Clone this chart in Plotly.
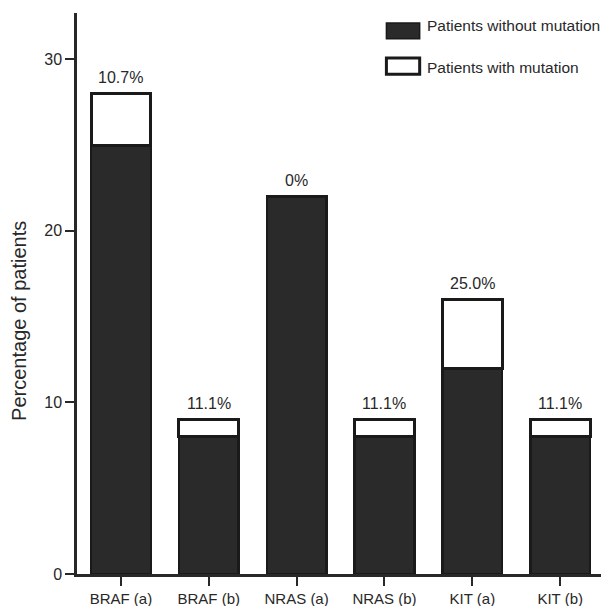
import plotly.graph_objects as go

categories = ["BRAF (a)", "BRAF (b)", "NRAS (a)", "NRAS (b)", "KIT (a)", "KIT (b)"]
without_mutation = [25, 8, 22, 8, 12, 8]
with_mutation = [3, 1, 0, 1, 4, 1]
pct_labels = ["10.7%", "11.1%", "0%", "11.1%", "25.0%", "11.1%"]
y_ticks = [0, 10, 20, 30]
series_names = ["Patients without mutation", "Patients with mutation"]

dark = "#2a2a2a"
edge = "#1a1a1a"
txt = "#282828"
font = "Liberation Sans, Arial, sans-serif"

fig = go.Figure()
fig.add_trace(go.Bar(
    x=categories, y=without_mutation, name=series_names[0],
    marker=dict(color=dark, line=dict(color=edge, width=2.5)), width=0.68,
    showlegend=False,
))
fig.add_trace(go.Bar(
    x=categories, y=with_mutation, name=series_names[1],
    marker=dict(color="white", line=dict(color=edge, width=3)), width=0.68,
    showlegend=False,
))

totals = [a + b for a, b in zip(without_mutation, with_mutation)]
for c, t, lab in zip(categories, totals, pct_labels):
    fig.add_annotation(x=c, y=t, text=lab, showarrow=False, yanchor="bottom",
                       yshift=6, font=dict(family=font, size=16, color=txt))

# custom legend (wide swatches, as in the original)
legend_rows = [
    dict(fill=dark, lw=1.5, y0=0.954, y1=0.982, ty=0.9786),
    dict(fill="white", lw=3, y0=0.891, y1=0.920, ty=0.9037),
]
for name, row in zip(series_names, legend_rows):
    fig.add_shape(type="rect", xref="paper", yref="paper",
                  x0=0.586, x1=0.649, y0=row["y0"], y1=row["y1"],
                  fillcolor=row["fill"], line=dict(color=edge, width=row["lw"]))
    fig.add_annotation(xref="paper", yref="paper", x=0.659, y=row["ty"],
                       xanchor="left", yanchor="middle", showarrow=False,
                       text=name, font=dict(family=font, size=15.5, color=txt))

# y axis title
fig.add_annotation(xref="paper", yref="paper", x=-0.110, y=0.451, textangle=-90,
                   xanchor="center", yanchor="middle", showarrow=False,
                   text="Percentage of patients", font=dict(family=font, size=20, color=txt))

# page body has an 8px margin; figure sized so it ends at the window edge
fig.update_layout(
    width=601, height=598,
    margin=dict(l=69, r=4, t=5, b=32),
    barmode="stack",
    plot_bgcolor="white", paper_bgcolor="white",
    font=dict(family=font, color=txt),
    showlegend=False,
    xaxis=dict(
        range=[-0.5, 5.51], showline=True, linecolor=txt, linewidth=2.5,
        ticks="outside", ticklen=9, tickwidth=2, tickcolor=txt,
        tickfont=dict(family=font, size=15, color=txt), showgrid=False,
        automargin=False,
    ),
    yaxis=dict(
        range=[0, 32.7], tickvals=y_ticks, showline=True, linecolor=txt, linewidth=2.5,
        ticks="outside", ticklen=9, tickwidth=2, tickcolor=txt,
        tickfont=dict(family=font, size=16, color=txt), showgrid=False, zeroline=False,
        automargin=False,
    ),
)

fig.write_html("out.html")
